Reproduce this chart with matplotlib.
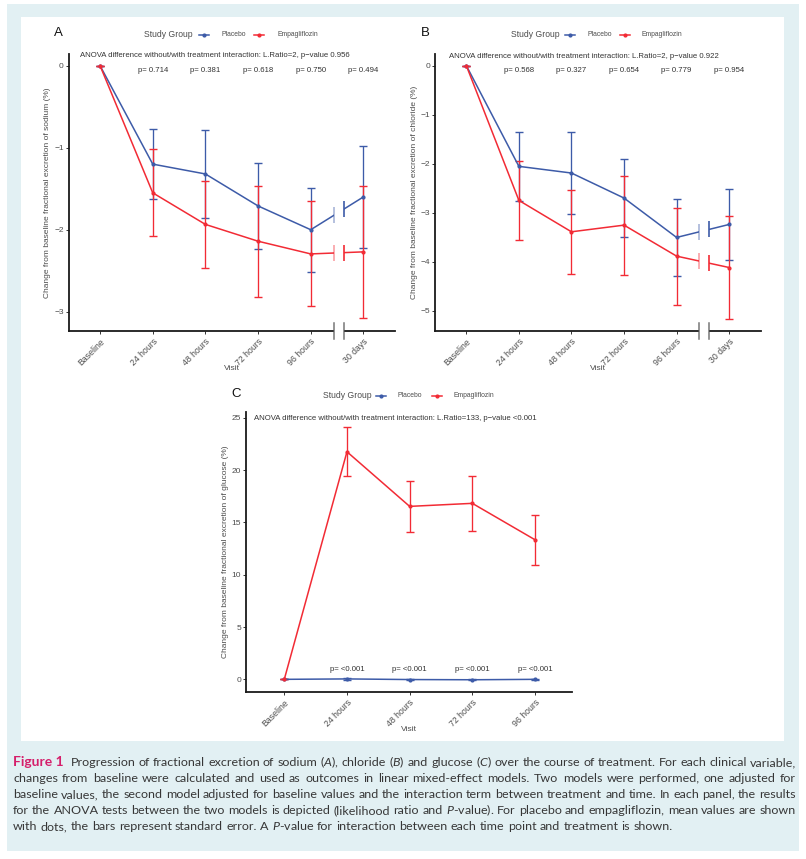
import matplotlib
matplotlib.use("Agg")
import matplotlib.pyplot as plt
import numpy as np
from matplotlib.patches import Rectangle
from matplotlib.lines import Line2D
import matplotlib.transforms as mtransforms

# ---------------- data ----------------
visits_AB = ["Baseline", "24 hours", "48 hours", "72 hours", "96 hours", "30 days"]
visits_C = ["Baseline", "24 hours", "48 hours", "72 hours", "96 hours"]
groups = ["Placebo", "Empagliflozin"]

sodium_placebo = [0.0, -1.20, -1.32, -1.71, -2.00, -1.60]
sodium_placebo_se = [0.0, 0.425, 0.54, 0.52, 0.51, 0.625]
sodium_empa = [0.0, -1.55, -1.935, -2.14, -2.295, -2.27]
sodium_empa_se = [0.0, 0.53, 0.527, 0.675, 0.64, 0.805]
sodium_p = ["0.714", "0.381", "0.618", "0.750", "0.494"]
sodium_anova = "ANOVA difference without/with treatment interaction: L.Ratio=2, p\u2212value 0.956"

chloride_placebo = [0.0, -2.054, -2.19, -2.70, -3.503, -3.238]
chloride_placebo_se = [0.0, 0.70, 0.84, 0.79, 0.79, 0.73]
chloride_empa = [0.0, -2.748, -3.388, -3.252, -3.884, -4.116]
chloride_empa_se = [0.0, 0.81, 0.85, 1.01, 0.99, 1.04]
chloride_p = ["0.568", "0.327", "0.654", "0.779", "0.954"]
chloride_anova = "ANOVA difference without/with treatment interaction: L.Ratio=2, p\u2212value 0.922"

glucose_placebo = [0.0, 0.04, -0.02, -0.04, 0.0]
glucose_placebo_se = [0.0, 0.06, 0.05, 0.06, 0.05]
glucose_empa = [0.0, 21.75, 16.53, 16.82, 13.34]
glucose_empa_se = [0.0, 2.34, 2.47, 2.63, 2.39]
glucose_p = ["<0.001", "<0.001", "<0.001", "<0.001"]
glucose_anova = "ANOVA difference without/with treatment interaction: L.Ratio=133, p\u2212value <0.001"

caption_lines = [
    "Progression of fractional excretion of sodium (*A*), chloride (*B*) and glucose (*C*) over the course of treatment. For each clinical variable,",
    "changes from baseline were calculated and used as outcomes in linear mixed-effect models. Two models were performed, one adjusted for",
    "baseline values, the second model adjusted for baseline values and the interaction term between treatment and time. In each panel, the results",
    "for the ANOVA tests between the two models is depicted (likelihood ratio and *P*-value). For placebo and empagliflozin, mean values are shown",
    "with dots, the bars represent standard error. A *P*-value for interaction between each time point and treatment is shown.",
]
caption_head = "Figure 1"

# ---------------- style ----------------
W, H, DPI = 806, 859, 100
BLUE = "#3d5ba8"
RED = "#f22b35"
TXT = "#4d4d4d"
FONT = "Liberation Sans"
plt.rcParams["font.family"] = [FONT, "DejaVu Sans"]
plt.rcParams["mathtext.fontset"] = "custom"
plt.rcParams["mathtext.rm"] = "Lato"
plt.rcParams["mathtext.it"] = "Lato:italic"

fig = plt.figure(figsize=(W / DPI, H / DPI), dpi=DPI)
fig.patch.set_facecolor("white")


def fx(x):
    return x / W


def fy(y):
    return 1 - y / H


fig.add_artist(Rectangle((fx(7), fy(851)), (799 - 7) / W, (851 - 4) / H,
                         transform=fig.transFigure, facecolor="#e2f0f3", edgecolor="none", zorder=-2))
fig.add_artist(Rectangle((fx(21), fy(741)), (784 - 21) / W, (741 - 17) / H,
                         transform=fig.transFigure, facecolor="white", edgecolor="none", zorder=-1))


def add_axes_px(l, t, r, b):
    ax = fig.add_axes([l / W, 1 - b / H, (r - l) / W, (b - t) / H])
    ax.set_facecolor("none")
    return ax


def legend_px(yc, pos):
    sg, k1, l1, k2, l2 = pos
    fig.text(fx(sg), fy(yc), "Study Group", fontsize=6.2, color=TXT, ha="left", va="center")
    for kx, lx, col, name in [(k1, l1, BLUE, groups[0]), (k2, l2, RED, groups[1])]:
        fig.add_artist(Line2D([fx(kx), fx(kx + 10)], [fy(yc), fy(yc)], transform=fig.transFigure,
                              color=col, lw=1.1))
        fig.add_artist(Line2D([fx(kx + 5)], [fy(yc)], transform=fig.transFigure,
                              color=col, marker="o", ms=2.0, lw=0))
        fig.text(fx(lx), fy(yc), name, fontsize=4.9, color=TXT, ha="left", va="center")


def panel(rect, labels, series, ylim, xlim, yticks, ylabel, pvals, anova, anova_xy, p_y, brk=None):
    ax = add_axes_px(*rect)
    x = np.arange(len(labels))
    for vals, se, col in series:
        ax.errorbar(x, vals, yerr=se, color=col, lw=1.1, marker="o", ms=2.0,
                    capsize=2.9, capthick=1.0, elinewidth=0.95, zorder=2)
    ax.set_xlim(*xlim)
    ax.set_ylim(*ylim)
    ax.set_yticks(yticks)
    ax.set_yticklabels([("\u2212%d" % -v) if v < 0 else "%d" % v for v in yticks])
    ax.set_xticks(x)
    ax.set_xticklabels(labels, rotation=45, ha="right", rotation_mode="anchor")
    for s in ["top", "right"]:
        ax.spines[s].set_visible(False)
    for s in ["left", "bottom"]:
        ax.spines[s].set_color("#1a1a1a")
        ax.spines[s].set_linewidth(1.3)
    ax.tick_params(axis="y", length=2.3, width=0.7, color="#333333", labelsize=6.0, labelcolor=TXT, pad=1.5)
    ax.tick_params(axis="x", length=2.3, width=0.7, color="#333333", labelsize=6.3, labelcolor=TXT, pad=2)
    ax.set_ylabel(ylabel, fontsize=6.0, color=TXT)
    ax.yaxis.set_label_coords(-0.065, 0.5)
    ax.yaxis.label.set_va("center")
    ax.set_xlabel("Visit", fontsize=6.1, color=TXT)
    ax.xaxis.set_label_coords(0.5, -0.135)
    ax.xaxis.label.set_va("center")
    ax.text(anova_xy[0], anova_xy[1], anova, transform=ax.transAxes, fontsize=5.6,
            color="#333333", ha="left", va="center", zorder=8)
    bt = mtransforms.blended_transform_factory(ax.transData, ax.transAxes)
    for i, p in enumerate(pvals):
        ax.text(x[i + 1], p_y, "p= " + p, transform=bt, fontsize=5.6, color="#333333",
                ha="center", va="center", zorder=8)
    if brk is not None:
        b0, b1 = brk
        ax.add_patch(Rectangle((b0, -0.03), b1 - b0, 0.9, transform=bt, facecolor="white",
                               edgecolor="none", zorder=3, clip_on=False))
        for bx in (b0, b1):
            ax.add_line(Line2D([bx, bx], [-0.028, 0.028], transform=bt, color="#555555",
                               lw=1.1, zorder=4, clip_on=False, alpha=0.8))
        for vals, se, col in series:
            for bx, a in ((b0, 0.45), (b1, 1.0)):
                yi = np.interp(bx, x, vals)
                ax.plot([bx], [yi], marker="|", ms=11, mew=1.2, color=col, alpha=a, zorder=4)
    return ax


# Panel A
axA = panel((69, 54, 395, 331), visits_AB,
            [(sodium_placebo, sodium_placebo_se, BLUE), (sodium_empa, sodium_empa_se, RED)],
            (-3.235, 0.143), (-0.59, 5.6), [-3, -2, -1, 0],
            "Change from baseline fractional excretion of sodium (%)",
            sodium_p, sodium_anova, (0.034, 0.993), 0.94, brk=(4.45, 4.63))
fig.text(fx(54), fy(33.5), "A", fontsize=9.5, color="#111111", ha="left", va="center")
legend_px(34.7, (144, 199, 222, 254, 277))

# Panel B
axB = panel((435.3, 54.3, 760.7, 331), visits_AB,
            [(chloride_placebo, chloride_placebo_se, BLUE), (chloride_empa, chloride_empa_se, RED)],
            (-5.41, 0.23), (-0.59, 5.6), [-5, -4, -3, -2, -1, 0],
            "Change from baseline fractional excretion of chloride (%)",
            chloride_p, chloride_anova, (0.041, 0.993), 0.94, brk=(4.43, 4.62))
fig.text(fx(421), fy(33.5), "B", fontsize=9.5, color="#111111", ha="left", va="center")
legend_px(34.7, (511, 565, 587, 620, 642))

# Panel C
axC = panel((246.3, 412, 572.3, 692), visits_C,
            [(glucose_placebo, glucose_placebo_se, BLUE), (glucose_empa, glucose_empa_se, RED)],
            (-1.21, 25.55), (-0.606, 4.595), [0, 5, 10, 15, 20, 25],
            "Change from baseline fractional excretion of glucose (%)",
            glucose_p, glucose_anova, (0.024, 0.975), 0.082)
fig.text(fx(231), fy(394), "C", fontsize=9.5, color="#111111", ha="left", va="center")
legend_px(395.7, (323, 376, 398, 432, 453))

# ---------------- caption (justified) ----------------
renderer = fig.canvas.get_renderer()
CAP_FONT = ["Lato", "DejaVu Sans"]
CAP_COL = "#363636"
HEAD_SIZE = 10.0


def to_math(word):
    parts = word.split("*")
    out = ""
    for i, p in enumerate(parts):
        if not p:
            continue
        if i % 2 == 1:
            out += r"$\mathit{" + p + "}$"
        else:
            out += p
    return out


def text_w(s, size, **kw):
    t = fig.text(0, 0, s, fontsize=size, family=CAP_FONT, **kw)
    w = t.get_window_extent(renderer).width
    t.remove()
    return w


X0, X1 = 13, 796
probe = caption_lines[2]
nat = text_w(probe.replace("*", ""), 10.0)
CAP_SIZE = 10.0 * (X1 - X0 - 4) / nat

baselines = [766, 782, 798, 814, 830]
for li, line in enumerate(caption_lines):
    yb = fy(baselines[li])
    x = X0
    if li == 0:
        th = fig.text(fx(x), yb, caption_head, fontsize=HEAD_SIZE, family=CAP_FONT,
                      weight="bold", color="#d51f6b", ha="left", va="baseline")
        x += th.get_window_extent(renderer).width + 7
    words = [to_math(w) for w in line.split(" ")]
    arts = [fig.text(0, yb, w, fontsize=CAP_SIZE, family=CAP_FONT, color=CAP_COL,
                     ha="left", va="baseline") for w in words]
    widths = [a.get_window_extent(renderer).width for a in arts]
    if li == len(caption_lines) - 1:
        gap = text_w("a a", CAP_SIZE) - text_w("aa", CAP_SIZE)
    else:
        gap = (X1 - x - sum(widths)) / (len(words) - 1)
    for a, w in zip(arts, widths):
        a.set_x(fx(x))
        x += w + gap

fig.savefig("out.png", dpi=DPI, facecolor="white")
